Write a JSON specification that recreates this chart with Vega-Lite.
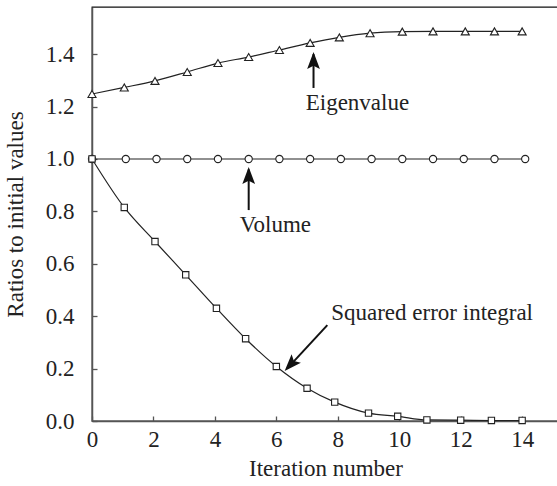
{
  "$schema": "https://vega.github.io/schema/vega-lite/v6.json",
  "width": 467,
  "height": 414,
  "autosize": "none",
  "padding": {"left": 92, "top": 7, "right": 0, "bottom": 65},
  "background": "white",
  "config": {
    "view": {"stroke": "#111", "strokeWidth": 1.3},
    "font": "Liberation Serif",
    "axis": {"labelFont": "Liberation Serif", "titleFont": "Liberation Serif", "labelFontSize": 23, "titleFontSize": 23, "titleFontWeight": "normal", "labelColor": "#222", "titleColor": "#222", "grid": false, "domainColor": "#555", "domainWidth": 1.5, "tickColor": "#555", "tickWidth": 1.3, "labelFlush": false}
  },
  "datasets": {
    "series": [
      {"series": "eig", "x": 0, "y": 1.248},
      {"series": "eig", "x": 1.05, "y": 1.273},
      {"series": "eig", "x": 2.05, "y": 1.298},
      {"series": "eig", "x": 3.1, "y": 1.332},
      {"series": "eig", "x": 4.1, "y": 1.366},
      {"series": "eig", "x": 5.1, "y": 1.389},
      {"series": "eig", "x": 6.1, "y": 1.416},
      {"series": "eig", "x": 7.1, "y": 1.443},
      {"series": "eig", "x": 8.05, "y": 1.464},
      {"series": "eig", "x": 9.05, "y": 1.48},
      {"series": "eig", "x": 10.1, "y": 1.486},
      {"series": "eig", "x": 11.1, "y": 1.487},
      {"series": "eig", "x": 12.15, "y": 1.487},
      {"series": "eig", "x": 13.1, "y": 1.487},
      {"series": "eig", "x": 14.0, "y": 1.487},
      {"series": "vol", "x": 0, "y": 1.0},
      {"series": "vol", "x": 1.1, "y": 1.0},
      {"series": "vol", "x": 2.1, "y": 1.0},
      {"series": "vol", "x": 3.1, "y": 1.0},
      {"series": "vol", "x": 4.1, "y": 1.0},
      {"series": "vol", "x": 5.1, "y": 1.0},
      {"series": "vol", "x": 6.1, "y": 1.0},
      {"series": "vol", "x": 7.1, "y": 1.0},
      {"series": "vol", "x": 8.1, "y": 1.0},
      {"series": "vol", "x": 9.1, "y": 1.0},
      {"series": "vol", "x": 10.1, "y": 1.0},
      {"series": "vol", "x": 11.1, "y": 1.0},
      {"series": "vol", "x": 12.1, "y": 1.0},
      {"series": "vol", "x": 13.1, "y": 1.0},
      {"series": "vol", "x": 14.1, "y": 1.0},
      {"series": "sq", "x": 0, "y": 1.0},
      {"series": "sq", "x": 1.05, "y": 0.815},
      {"series": "sq", "x": 2.05, "y": 0.685},
      {"series": "sq", "x": 3.05, "y": 0.558},
      {"series": "sq", "x": 4.05, "y": 0.43},
      {"series": "sq", "x": 5.0, "y": 0.314},
      {"series": "sq", "x": 6.0, "y": 0.208},
      {"series": "sq", "x": 7.0, "y": 0.125},
      {"series": "sq", "x": 7.9, "y": 0.072},
      {"series": "sq", "x": 9.0, "y": 0.03},
      {"series": "sq", "x": 9.95, "y": 0.018},
      {"series": "sq", "x": 10.9, "y": 0.004},
      {"series": "sq", "x": 12.0, "y": 0.003},
      {"series": "sq", "x": 13.0, "y": 0.002},
      {"series": "sq", "x": 14.0, "y": 0.002}
    ],
    "arrows": [
      {"x": 7.21, "y": 1.271, "x2": 7.21, "y2": 1.40, "tx": 7.21, "ty": 1.408, "angle": 0},
      {"x": 5.10, "y": 0.805, "x2": 5.10, "y2": 0.96, "tx": 5.10, "ty": 0.969, "angle": 0},
      {"x": 7.66, "y": 0.366, "x2": 6.35, "y2": 0.20, "tx": 6.27, "ty": 0.191, "angle": 223}
    ],
    "labels": [
      {"x": 8.64, "y": 1.214, "text": "Eigenvalue"},
      {"x": 5.97, "y": 0.748, "text": "Volume"},
      {"x": 11.07, "y": 0.412, "text": "Squared error integral"}
    ]
  },
  "layer": [
    {
      "data": {"name": "series"},
      "mark": {"type": "line", "interpolate": "monotone", "color": "#222", "strokeWidth": 1.2, "clip": true},
      "encoding": {
        "x": {"field": "x", "type": "quantitative", "scale": {"domain": [0, 15.2], "nice": false, "zero": false},
              "axis": {"values": [0, 2, 4, 6, 8, 10, 12, 14], "title": "Iteration number", "tickSize": -5, "labelPadding": 12, "titlePadding": 6, "orient": "bottom", "format": "d", "labelFlush": false}},
        "y": {"field": "y", "type": "quantitative", "scale": {"domain": [0, 1.58], "nice": false},
              "axis": {"values": [0, 0.2, 0.4, 0.6, 0.8, 1.0, 1.2, 1.4], "format": ".1f", "title": "Ratios to initial values", "tickSize": -5, "labelPadding": 23, "titlePadding": 18, "labelFlush": false}},
        "detail": {"field": "series", "type": "nominal"}
      }
    },
    {
      "data": {"name": "series"},
      "mark": {"type": "point", "filled": true, "fill": "white", "stroke": "#222", "strokeWidth": 1.1, "opacity": 1},
      "encoding": {
        "x": {"field": "x", "type": "quantitative"},
        "y": {"field": "y", "type": "quantitative"},
        "shape": {"field": "series", "type": "nominal", "scale": {"domain": ["eig", "vol", "sq"], "range": ["triangle-up", "circle", "square"]}, "legend": null},
        "size": {"field": "series", "type": "nominal", "scale": {"domain": ["eig", "vol", "sq"], "range": [65, 40, 55]}, "legend": null}
      }
    },
    {
      "data": {"name": "arrows"},
      "mark": {"type": "rule", "color": "#111", "strokeWidth": 2},
      "encoding": {
        "x": {"field": "x", "type": "quantitative"},
        "y": {"field": "y", "type": "quantitative"},
        "x2": {"field": "x2"},
        "y2": {"field": "y2"}
      }
    },
    {
      "data": {"name": "arrows"},
      "mark": {"type": "point", "filled": true, "color": "#111", "opacity": 1, "size": 289, "shape": "M0,0L0.75,2L0,1.6L-0.75,2Z"},
      "encoding": {
        "x": {"field": "tx", "type": "quantitative"},
        "y": {"field": "ty", "type": "quantitative"},
        "angle": {"field": "angle", "type": "quantitative", "scale": null}
      }
    },
    {
      "data": {"name": "labels"},
      "mark": {"type": "text", "font": "Liberation Serif", "fontSize": 23, "color": "#222", "align": "center", "baseline": "middle"},
      "encoding": {
        "x": {"field": "x", "type": "quantitative"},
        "y": {"field": "y", "type": "quantitative"},
        "text": {"field": "text"}
      }
    }
  ]
}
